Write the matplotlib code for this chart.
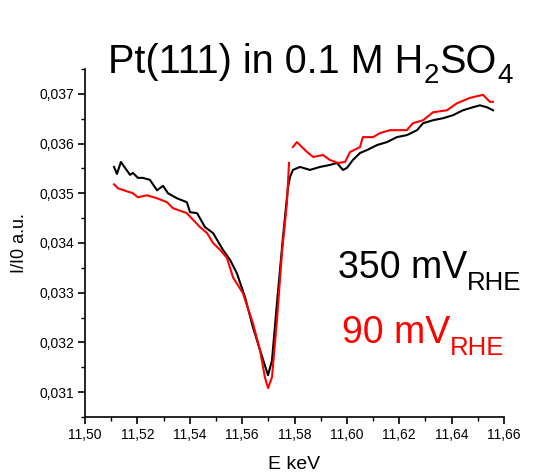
import matplotlib
matplotlib.use("Agg")
import matplotlib.pyplot as plt
import numpy as np
from matplotlib.ticker import FuncFormatter, MultipleLocator

plt.rcParams['font.family'] = ['Liberation Sans', 'DejaVu Sans']

# 350 mV (black)
e_350 = [11.5111, 11.5122, 11.5137, 11.5172, 11.5183, 11.5202, 11.5221, 11.5248,
         11.5275, 11.5298, 11.5317, 11.5351, 11.5389, 11.5401, 11.5428, 11.5458,
         11.5489, 11.5527, 11.5554, 11.5580, 11.5611, 11.5641, 11.5668, 11.5699,
         11.5714, 11.5733, 11.5756, 11.5775, 11.5783, 11.5794, 11.5821, 11.5859,
         11.5897, 11.5935, 11.5962, 11.5985, 11.6000, 11.6023, 11.6050, 11.6077,
         11.6115, 11.6153, 11.6191, 11.6229, 11.6268, 11.6291, 11.6329, 11.6367,
         11.6405, 11.6443, 11.6481, 11.6508, 11.6535, 11.6558]
i_350 = [0.03553, 0.03539, 0.03563, 0.03537, 0.03541, 0.03531, 0.03531, 0.03527,
         0.03506, 0.03515, 0.03500, 0.03490, 0.03482, 0.03462, 0.03460, 0.03432,
         0.03420, 0.03386, 0.03366, 0.03339, 0.03291, 0.03231, 0.03185, 0.03134,
         0.03164, 0.03279, 0.03412, 0.03512, 0.03533, 0.03547, 0.03553, 0.03547,
         0.03553, 0.03557, 0.03561, 0.03547, 0.03551, 0.03567, 0.03581, 0.03587,
         0.03597, 0.03603, 0.03613, 0.03617, 0.03627, 0.03641, 0.03647, 0.03651,
         0.03657, 0.03667, 0.03673, 0.03677, 0.03673, 0.03667]

# 90 mV (red), nan marks the break in the scan
e_90 = [11.5111, 11.5126, 11.5183, 11.5202, 11.5237, 11.5275, 11.5313, 11.5336,
        11.5389, 11.5439, 11.5466, 11.5489, 11.5516, 11.5542, 11.5565, 11.5603,
        11.5641, 11.5668, 11.5687, 11.5699, 11.5714, 11.5733, 11.5752, 11.5771,
        11.5779, 11.5786, 11.5794, 11.5809, 11.5848, 11.5871, 11.5909, 11.5935,
        11.5966, 11.5993, 11.6012, 11.6050, 11.6061, 11.6100, 11.6126, 11.6165,
        11.6229, 11.6252, 11.6291, 11.6329, 11.6382, 11.6420, 11.6470, 11.6520,
        11.6546, 11.6558]
i_90 = [0.03518, 0.03510, 0.03500, 0.03492, 0.03496, 0.03490, 0.03482, 0.03470,
        0.03460, 0.03432, 0.03420, 0.03400, 0.03386, 0.03370, 0.03331, 0.03299,
        0.03239, 0.03185, 0.03130, 0.03108, 0.03130, 0.03245, 0.03380, 0.03480,
        0.03561, np.nan, 0.03593, 0.03603, 0.03583, 0.03573, 0.03577, 0.03567,
        0.03561, 0.03563, 0.03583, 0.03593, 0.03613, 0.03613, 0.03621, 0.03627,
        0.03627, 0.03641, 0.03647, 0.03663, 0.03667, 0.03681, 0.03692, 0.03698,
        0.03684, 0.03684]

fig = plt.figure(figsize=(5.39, 4.74), dpi=100)
ax = fig.add_axes([0.1577, 0.1203, 0.7774, 0.7341])

ax.plot(e_350, i_350, color='black', lw=1.5)
ax.plot(e_90, i_90, color='red', lw=1.5)

ax.set_xlim(11.50, 11.66)
ax.set_ylim(0.0305, 0.0375)
ax.xaxis.set_major_locator(MultipleLocator(0.02))
ax.xaxis.set_minor_locator(MultipleLocator(0.01))
ax.yaxis.set_major_locator(MultipleLocator(0.001))
ax.yaxis.set_minor_locator(MultipleLocator(0.0005))
ax.xaxis.set_major_formatter(FuncFormatter(lambda v, p: f"{v:.2f}".replace('.', ',')))
ax.yaxis.set_major_formatter(FuncFormatter(lambda v, p: f"{v:.3f}".replace('.', ',')))

for s in ['top', 'right']:
    ax.spines[s].set_visible(False)
for s in ['left', 'bottom']:
    ax.spines[s].set_linewidth(1.2)
ax.tick_params(which='major', direction='out', length=5, width=1.2, labelsize=10, pad=3)
ax.tick_params(which='minor', direction='out', length=3, width=1.0)

ax.set_xlabel('E keV', fontsize=14, labelpad=10)
ax.set_ylabel('I/I0 a.u.', fontsize=13, labelpad=8)

renderer = fig.canvas.get_renderer()


def sub_text(x_px, base_px, parts, size, color, drop, sub_size):
    # parts: list of (text, is_subscript); positions in pixels from top-left
    x = x_px
    for txt, is_sub in parts:
        y = base_px + (drop if is_sub else 0)
        t = fig.text(x / 539, 1 - y / 474, txt, fontsize=sub_size if is_sub else size,
                     color=color, ha='left', va='baseline')
        x += t.get_window_extent(renderer).width + (1 if is_sub else 0)


sub_text(108, 73, [('Pt(111) in 0.1 M H', False), ('2', True), ('SO', False), ('4', True)],
         28.5, 'black', 10, 20)
sub_text(338, 278, [('350 mV', False), ('RHE', True)], 27, 'black', 12, 18.5)
sub_text(342, 343, [('90 mV', False), ('RHE', True)], 27, 'red', 12, 18.5)

fig.savefig('out.png', dpi=100)
